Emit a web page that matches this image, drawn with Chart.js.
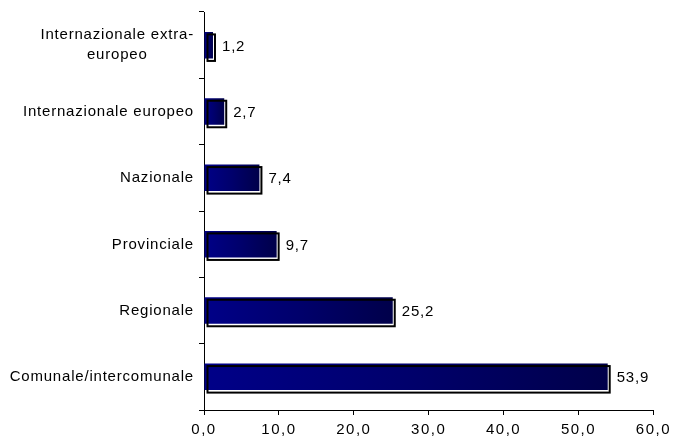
<!DOCTYPE html>
<html>
<head>
<meta charset="utf-8">
<script src="https://cdn.jsdelivr.net/npm/chart.js@4"></script>
<style>
  html, body { margin: 0; padding: 0; background: #ffffff; }
  #wrap { width: 674px; height: 438px; }
</style>
</head>
<body>
<div id="wrap"><canvas id="c" width="674" height="438"></canvas></div>
<script>
const categories = [
  ["Internazionale extra-", "europeo"],
  "Internazionale europeo",
  "Nazionale",
  "Provinciale",
  "Regionale",
  "Comunale/intercomunale"
];
const values = [1.2, 2.7, 7.4, 9.7, 25.2, 53.9];
const xTicks = [0, 10, 20, 30, 40, 50, 60];

const FONT = "'Liberation Sans', Arial, sans-serif";
const fmt = v => v.toFixed(1).replace('.', ',');

const shadowPlugin = {
  id: 'shadowOutline',
  afterDatasetsDraw(chart) {
    const ctx = chart.ctx;
    const meta = chart.getDatasetMeta(0);
    ctx.save();
    ctx.strokeStyle = '#000000';
    ctx.lineWidth = 2;
    meta.data.forEach((bar, i) => {
      const p = bar.getProps(['x', 'y', 'base', 'height'], true);
      const top = p.y - p.height / 2;
      const x0 = p.base + 3;
      const x1 = p.x + 2;
      ctx.strokeRect(x0, top + 2.5, x1 - x0, p.height);
      ctx.fillStyle = '#000000';
      ctx.font = '15px ' + FONT;
      ctx.letterSpacing = '0.8px';
      ctx.textAlign = 'left';
      ctx.textBaseline = 'middle';
      ctx.fillText(fmt(values[i]), p.x + 9, p.y + 1.5);
    });
    ctx.restore();
  }
};

const yLabelPlugin = {
  id: 'yLabels',
  afterDraw(chart) {
    const ctx = chart.ctx;
    const ys = chart.scales.y;
    ctx.save();
    ctx.fillStyle = '#000000';
    ctx.font = '15px ' + FONT;
    ctx.letterSpacing = '0.8px';
    ctx.textBaseline = 'middle';
    const right = ys.right - 10;
    categories.forEach((lab, i) => {
      const yc = ys.getPixelForTick(i);
      if (Array.isArray(lab)) {
        const widths = lab.map(l => ctx.measureText(l).width);
        const maxW = Math.max(...widths);
        const cx = right - maxW / 2;
        const lh = 20;
        ctx.textAlign = 'center';
        lab.forEach((l, k) => {
          ctx.fillText(l, cx, yc + (k - (lab.length - 1) / 2) * lh);
        });
      } else {
        ctx.textAlign = 'right';
        ctx.fillText(lab, right, yc + 0.5);
      }
    });
    ctx.restore();
  }
};

const spacingPlugin = {
  id: 'spacing',
  beforeDraw(chart) { chart.ctx.letterSpacing = '1.5px'; },
  afterDraw(chart) { chart.ctx.letterSpacing = '0px'; }
};

new Chart(document.getElementById('c'), {
  type: 'bar',
  data: {
    labels: categories,
    datasets: [{
      data: values,
      borderWidth: 0,
      barPercentage: 0.4,
      categoryPercentage: 1.0,
      backgroundColor: (c) => {
        const chart = c.chart;
        if (c.type !== 'data' || !chart.chartArea || !chart.scales.x) return '#000080';
        const xs = chart.scales.x;
        const x0 = xs.getPixelForValue(0);
        const x1 = xs.getPixelForValue(c.raw);
        const g = chart.ctx.createLinearGradient(x0, 0, Math.max(x1, x0 + 1), 0);
        g.addColorStop(0, '#000088');
        g.addColorStop(0.5, '#00006c');
        g.addColorStop(1, '#00004a');
        return g;
      }
    }]
  },
  options: {
    indexAxis: 'y',
    responsive: false,
    animation: false,
    devicePixelRatio: 1,
    layout: { padding: { left: 0, right: 20, top: 12, bottom: 0 } },
    plugins: {
      legend: { display: false },
      tooltip: { enabled: false },
      title: { display: false }
    },
    scales: {
      x: {
        type: 'linear',
        min: 0,
        max: 60,
        afterBuildTicks: (s) => { s.ticks = xTicks.map(v => ({ value: v })); },
        afterFit: (s) => { s.height = 28; },
        border: { display: true, color: '#000000', width: 1 },
        grid: { display: true, drawOnChartArea: false, drawTicks: true, tickLength: 5, color: '#000000' },
        ticks: {
          color: '#000000',
          font: { family: FONT, size: 15 },
          padding: 6,
          maxRotation: 0,
          callback: (v) => fmt(v)
        }
      },
      y: {
        type: 'category',
        offset: true,
        afterFit: (s) => { s.width = 204; },
        border: { display: true, color: '#000000', width: 1 },
        grid: { display: true, offset: true, drawOnChartArea: false, drawTicks: true, tickLength: 5, color: '#000000' },
        ticks: { display: false }
      }
    }
  },
  plugins: [spacingPlugin, shadowPlugin, yLabelPlugin]
});
</script>
</body>
</html>
